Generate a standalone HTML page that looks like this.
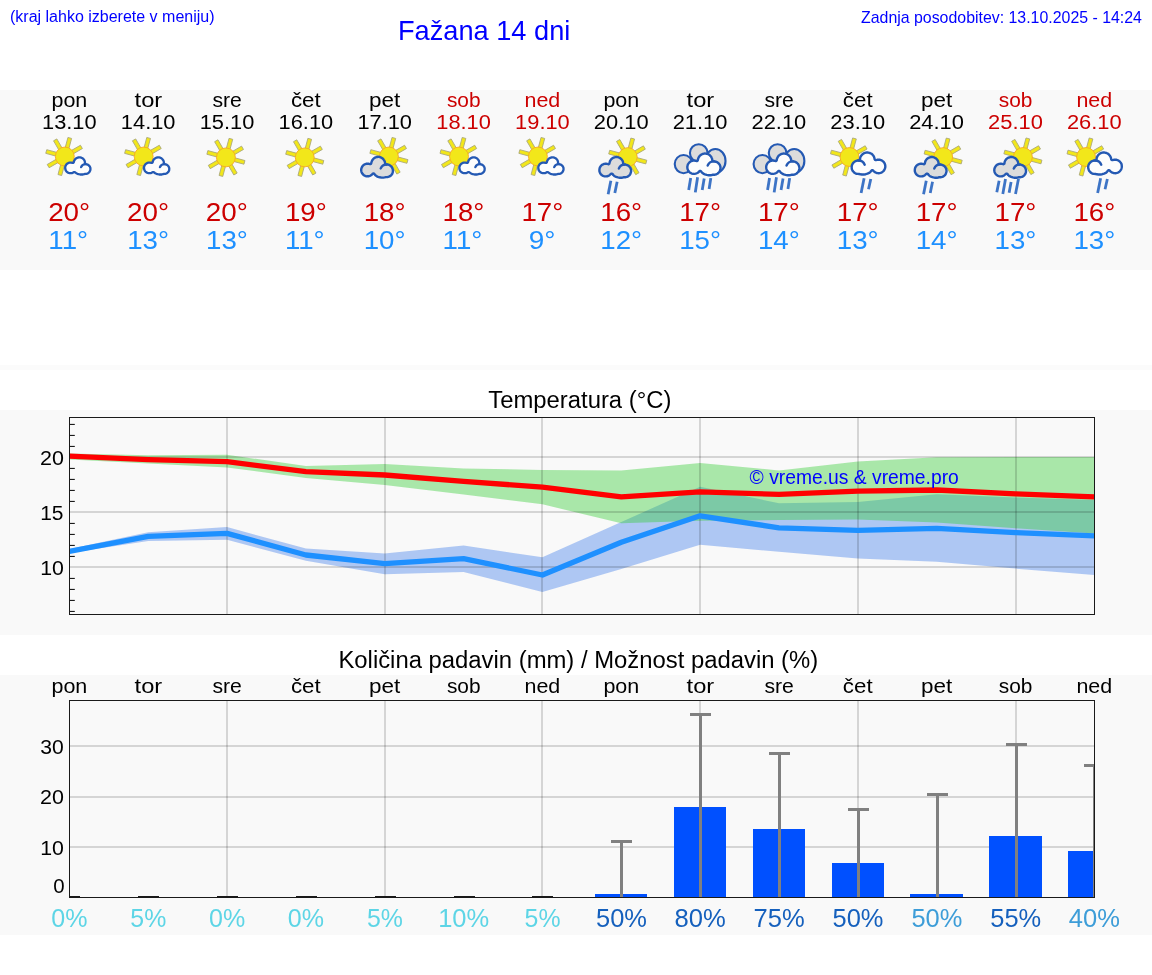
<!DOCTYPE html>
<html lang="sl"><head><meta charset="utf-8"><title>Fažana 14 dni</title>
<style>
html,body{margin:0;padding:0;background:#fff;}
body{width:1152px;height:975px;position:relative;overflow:hidden;font-family:"Liberation Sans",sans-serif;}
.h{position:absolute;color:#0000ff;white-space:nowrap;line-height:1;will-change:transform;}
#l{left:10px;top:9.4px;font-size:16px;}
#r{right:10px;top:9.5px;font-size:15.9px;}
#t{left:398.1px;top:17.3px;font-size:27.2px;}
svg{position:absolute;left:0;top:0;will-change:transform;}
svg text{font-family:"Liberation Sans",sans-serif;}
</style></head><body>
<svg width="1152" height="975" viewBox="0 0 1152 975">
<rect x="0" y="90" width="1152" height="180" fill="#f9f9f9"/>
<rect x="0" y="365" width="1152" height="5" fill="#fbfbfb"/>
<rect x="0" y="410" width="1152" height="225" fill="#f9f9f9"/>
<rect x="0" y="675" width="1152" height="260" fill="#f9f9f9"/>
<text transform="translate(51.44,106.50) scale(1.0232,1)" font-size="21.00" fill="#000">pon</text>
<text transform="translate(42.01,128.90) scale(1.0396,1)" font-size="21.00" fill="#000">13.10</text>
<rect x="8.5" y="-1.9" width="10.7" height="3.8" transform="translate(64.80,156.50) rotate(-30)" fill="#f2e71a" stroke="#a9a77a" stroke-width="0.8"/><rect x="8.5" y="-1.9" width="10.7" height="3.8" transform="translate(64.80,156.50) rotate(105)" fill="#f2e71a" stroke="#a9a77a" stroke-width="0.8"/><rect x="8.5" y="-1.9" width="10.7" height="3.8" transform="translate(64.80,156.50) rotate(150)" fill="#f2e71a" stroke="#a9a77a" stroke-width="0.8"/><rect x="8.5" y="-1.9" width="10.7" height="3.8" transform="translate(64.80,156.50) rotate(195)" fill="#f2e71a" stroke="#a9a77a" stroke-width="0.8"/><rect x="8.5" y="-1.9" width="10.7" height="3.8" transform="translate(64.80,156.50) rotate(240)" fill="#f2e71a" stroke="#a9a77a" stroke-width="0.8"/><rect x="8.5" y="-1.9" width="10.7" height="3.8" transform="translate(64.80,156.50) rotate(285)" fill="#f2e71a" stroke="#a9a77a" stroke-width="0.8"/><circle cx="64.80" cy="156.50" r="9.45" fill="#f2e71a" stroke="#f7a823" stroke-width="0.9"/><path d="M85.1 163.5L84.8 161.5L84.6 160.8L84.3 160.2L83.6 159.2L83.1 158.7L82.5 158.3L81.9 158.0L81.3 157.7L80.1 157.4L78.8 157.4L78.2 157.5L77.5 157.7L76.9 158.0L76.1 158.4L75.6 158.8L75.0 159.4L74.6 160.1L74.2 160.7L73.7 162.3L73.5 162.6L73.3 162.8L73.0 162.9L72.6 162.9L71.0 162.6L70.2 162.6L69.5 162.7L68.7 162.9L68.0 163.2L67.3 163.6L66.7 164.1L66.2 164.7L65.8 165.4L65.5 166.0L65.3 166.7L65.2 167.4L65.2 168.2L65.3 168.9L65.5 169.7L65.7 170.3L66.1 170.9L66.5 171.5L67.0 172.0L67.6 172.4L68.2 172.7L68.8 173.0L69.6 173.2L70.6 173.2L71.7 173.1L72.7 172.8L73.7 172.2L74.3 172.1L74.8 172.2L75.1 172.3L76.3 173.2L77.5 173.8L78.8 174.2L80.2 174.5L81.5 174.5L83.0 174.5L84.2 174.2L85.3 173.9L86.4 173.8L87.2 173.6L88.0 173.2L88.7 172.7L89.3 172.2L89.8 171.4L90.2 170.5L90.4 169.7L90.4 168.9L90.4 168.1L90.2 167.4L89.9 166.7L89.5 166.1L89.0 165.6L88.4 165.0L87.6 164.6L86.8 164.3L85.9 164.1L85.5 164.0L85.3 163.7Z" fill="#fdfdfd" stroke="#2459b3" stroke-width="2.3" stroke-linejoin="round"/><path d="M85.77 164.15 A4.85 4.85 0 0 0 81.10 167.18" fill="none" stroke="#2459b3" stroke-width="2.3" stroke-linecap="round"/>
<text transform="translate(48.15,221.00) scale(1.0897,1)" font-size="25.52" fill="#cc0000">20°</text>
<text transform="translate(48.33,249.20) scale(1.0849,1)" font-size="25.52" fill="#1e90ff">11°</text>
<text transform="translate(134.59,106.50) scale(1.1296,1)" font-size="21.00" fill="#000">tor</text>
<text transform="translate(120.86,128.90) scale(1.0396,1)" font-size="21.00" fill="#000">14.10</text>
<rect x="8.5" y="-1.9" width="10.7" height="3.8" transform="translate(143.65,156.50) rotate(-30)" fill="#f2e71a" stroke="#a9a77a" stroke-width="0.8"/><rect x="8.5" y="-1.9" width="10.7" height="3.8" transform="translate(143.65,156.50) rotate(105)" fill="#f2e71a" stroke="#a9a77a" stroke-width="0.8"/><rect x="8.5" y="-1.9" width="10.7" height="3.8" transform="translate(143.65,156.50) rotate(150)" fill="#f2e71a" stroke="#a9a77a" stroke-width="0.8"/><rect x="8.5" y="-1.9" width="10.7" height="3.8" transform="translate(143.65,156.50) rotate(195)" fill="#f2e71a" stroke="#a9a77a" stroke-width="0.8"/><rect x="8.5" y="-1.9" width="10.7" height="3.8" transform="translate(143.65,156.50) rotate(240)" fill="#f2e71a" stroke="#a9a77a" stroke-width="0.8"/><rect x="8.5" y="-1.9" width="10.7" height="3.8" transform="translate(143.65,156.50) rotate(285)" fill="#f2e71a" stroke="#a9a77a" stroke-width="0.8"/><circle cx="143.65" cy="156.50" r="9.45" fill="#f2e71a" stroke="#f7a823" stroke-width="0.9"/><path d="M164.0 163.5L163.7 161.5L163.5 160.8L163.2 160.2L162.4 159.2L161.9 158.7L161.4 158.3L160.8 158.0L160.2 157.7L158.9 157.4L157.7 157.4L157.0 157.5L156.3 157.7L155.7 158.0L155.0 158.4L154.5 158.8L153.9 159.4L153.4 160.1L153.1 160.7L152.6 162.3L152.4 162.6L152.1 162.8L151.8 162.9L151.5 162.9L149.9 162.6L149.1 162.6L148.3 162.7L147.5 162.9L146.8 163.2L146.2 163.6L145.6 164.1L145.1 164.7L144.6 165.4L144.4 166.0L144.1 166.7L144.0 167.4L144.0 168.2L144.1 168.9L144.3 169.7L144.6 170.3L144.9 170.9L145.4 171.5L145.9 172.0L146.5 172.4L147.1 172.7L147.7 173.0L148.4 173.2L149.5 173.2L150.5 173.1L151.5 172.8L152.6 172.2L153.1 172.1L153.6 172.2L153.9 172.3L155.2 173.2L156.4 173.8L157.7 174.2L159.1 174.5L160.4 174.5L161.8 174.5L163.0 174.2L164.2 173.9L165.3 173.8L166.1 173.6L166.8 173.2L167.5 172.7L168.1 172.2L168.7 171.4L169.1 170.5L169.2 169.7L169.3 168.9L169.2 168.1L169.0 167.4L168.7 166.7L168.3 166.1L167.9 165.6L167.2 165.0L166.4 164.6L165.6 164.3L164.7 164.1L164.4 164.0L164.2 163.7Z" fill="#fdfdfd" stroke="#2459b3" stroke-width="2.3" stroke-linejoin="round"/><path d="M164.62 164.15 A4.85 4.85 0 0 0 159.95 167.18" fill="none" stroke="#2459b3" stroke-width="2.3" stroke-linecap="round"/>
<text transform="translate(127.00,221.00) scale(1.0897,1)" font-size="25.52" fill="#cc0000">20°</text>
<text transform="translate(127.18,249.20) scale(1.0849,1)" font-size="25.52" fill="#1e90ff">13°</text>
<text transform="translate(212.45,106.50) scale(1.0101,1)" font-size="21.00" fill="#000">sre</text>
<text transform="translate(199.71,128.90) scale(1.0396,1)" font-size="21.00" fill="#000">15.10</text>
<rect x="8.5" y="-1.9" width="10.7" height="3.8" transform="translate(225.90,157.40) rotate(-30)" fill="#f2e71a" stroke="#a9a77a" stroke-width="0.8"/><rect x="8.5" y="-1.9" width="10.7" height="3.8" transform="translate(225.90,157.40) rotate(15)" fill="#f2e71a" stroke="#a9a77a" stroke-width="0.8"/><rect x="8.5" y="-1.9" width="10.7" height="3.8" transform="translate(225.90,157.40) rotate(60)" fill="#f2e71a" stroke="#a9a77a" stroke-width="0.8"/><rect x="8.5" y="-1.9" width="10.7" height="3.8" transform="translate(225.90,157.40) rotate(105)" fill="#f2e71a" stroke="#a9a77a" stroke-width="0.8"/><rect x="8.5" y="-1.9" width="10.7" height="3.8" transform="translate(225.90,157.40) rotate(150)" fill="#f2e71a" stroke="#a9a77a" stroke-width="0.8"/><rect x="8.5" y="-1.9" width="10.7" height="3.8" transform="translate(225.90,157.40) rotate(195)" fill="#f2e71a" stroke="#a9a77a" stroke-width="0.8"/><rect x="8.5" y="-1.9" width="10.7" height="3.8" transform="translate(225.90,157.40) rotate(240)" fill="#f2e71a" stroke="#a9a77a" stroke-width="0.8"/><rect x="8.5" y="-1.9" width="10.7" height="3.8" transform="translate(225.90,157.40) rotate(285)" fill="#f2e71a" stroke="#a9a77a" stroke-width="0.8"/><circle cx="225.90" cy="157.40" r="9.45" fill="#f2e71a" stroke="#f7a823" stroke-width="0.9"/>
<text transform="translate(205.85,221.00) scale(1.0897,1)" font-size="25.52" fill="#cc0000">20°</text>
<text transform="translate(206.03,249.20) scale(1.0849,1)" font-size="25.52" fill="#1e90ff">13°</text>
<text transform="translate(290.88,106.50) scale(1.0633,1)" font-size="21.00" fill="#000">čet</text>
<text transform="translate(278.56,128.90) scale(1.0396,1)" font-size="21.00" fill="#000">16.10</text>
<rect x="8.5" y="-1.9" width="10.7" height="3.8" transform="translate(304.75,157.40) rotate(-30)" fill="#f2e71a" stroke="#a9a77a" stroke-width="0.8"/><rect x="8.5" y="-1.9" width="10.7" height="3.8" transform="translate(304.75,157.40) rotate(15)" fill="#f2e71a" stroke="#a9a77a" stroke-width="0.8"/><rect x="8.5" y="-1.9" width="10.7" height="3.8" transform="translate(304.75,157.40) rotate(60)" fill="#f2e71a" stroke="#a9a77a" stroke-width="0.8"/><rect x="8.5" y="-1.9" width="10.7" height="3.8" transform="translate(304.75,157.40) rotate(105)" fill="#f2e71a" stroke="#a9a77a" stroke-width="0.8"/><rect x="8.5" y="-1.9" width="10.7" height="3.8" transform="translate(304.75,157.40) rotate(150)" fill="#f2e71a" stroke="#a9a77a" stroke-width="0.8"/><rect x="8.5" y="-1.9" width="10.7" height="3.8" transform="translate(304.75,157.40) rotate(195)" fill="#f2e71a" stroke="#a9a77a" stroke-width="0.8"/><rect x="8.5" y="-1.9" width="10.7" height="3.8" transform="translate(304.75,157.40) rotate(240)" fill="#f2e71a" stroke="#a9a77a" stroke-width="0.8"/><rect x="8.5" y="-1.9" width="10.7" height="3.8" transform="translate(304.75,157.40) rotate(285)" fill="#f2e71a" stroke="#a9a77a" stroke-width="0.8"/><circle cx="304.75" cy="157.40" r="9.45" fill="#f2e71a" stroke="#f7a823" stroke-width="0.9"/>
<text transform="translate(284.88,221.00) scale(1.0849,1)" font-size="25.52" fill="#cc0000">19°</text>
<text transform="translate(284.88,249.20) scale(1.0849,1)" font-size="25.52" fill="#1e90ff">11°</text>
<text transform="translate(369.11,106.50) scale(1.0703,1)" font-size="21.00" fill="#000">pet</text>
<text transform="translate(357.41,128.90) scale(1.0396,1)" font-size="21.00" fill="#000">17.10</text>
<rect x="8.5" y="-1.9" width="10.7" height="3.8" transform="translate(388.90,156.50) rotate(-30)" fill="#f2e71a" stroke="#a9a77a" stroke-width="0.8"/><rect x="8.5" y="-1.9" width="10.7" height="3.8" transform="translate(388.90,156.50) rotate(15)" fill="#f2e71a" stroke="#a9a77a" stroke-width="0.8"/><rect x="8.5" y="-1.9" width="10.7" height="3.8" transform="translate(388.90,156.50) rotate(60)" fill="#f2e71a" stroke="#a9a77a" stroke-width="0.8"/><rect x="8.5" y="-1.9" width="10.7" height="3.8" transform="translate(388.90,156.50) rotate(105)" fill="#f2e71a" stroke="#a9a77a" stroke-width="0.8"/><rect x="8.5" y="-1.9" width="10.7" height="3.8" transform="translate(388.90,156.50) rotate(150)" fill="#f2e71a" stroke="#a9a77a" stroke-width="0.8"/><rect x="8.5" y="-1.9" width="10.7" height="3.8" transform="translate(388.90,156.50) rotate(195)" fill="#f2e71a" stroke="#a9a77a" stroke-width="0.8"/><rect x="8.5" y="-1.9" width="10.7" height="3.8" transform="translate(388.90,156.50) rotate(240)" fill="#f2e71a" stroke="#a9a77a" stroke-width="0.8"/><rect x="8.5" y="-1.9" width="10.7" height="3.8" transform="translate(388.90,156.50) rotate(285)" fill="#f2e71a" stroke="#a9a77a" stroke-width="0.8"/><circle cx="388.90" cy="156.50" r="9.45" fill="#f2e71a" stroke="#f7a823" stroke-width="0.9"/><path d="M385.1 163.3L385.0 162.5L384.8 161.6L384.4 160.8L384.1 160.3L383.6 159.6L383.2 159.0L382.6 158.5L381.9 158.0L381.2 157.6L380.4 157.2L379.5 157.0L378.9 156.9L378.0 156.9L377.2 157.0L376.4 157.2L375.7 157.4L374.9 157.7L374.1 158.3L373.3 158.9L372.7 159.7L372.1 160.5L371.8 161.3L371.5 162.1L371.2 163.4L371.1 163.7L370.8 163.9L370.4 164.1L370.1 164.1L368.9 163.8L368.0 163.7L367.1 163.7L366.2 163.8L365.3 164.1L364.4 164.5L363.6 165.0L363.0 165.6L362.5 166.2L362.0 167.0L361.6 167.9L361.3 168.8L361.2 169.7L361.2 170.6L361.4 171.5L361.6 172.3L362.0 173.0L362.5 173.8L363.0 174.4L363.5 174.9L364.3 175.4L365.0 175.8L365.7 176.1L366.5 176.3L367.2 176.3L368.2 176.3L368.9 176.2L369.8 175.9L370.7 175.5L371.3 175.1L371.9 174.6L372.8 173.7L373.1 173.6L373.4 173.5L373.9 173.6L374.2 173.7L375.2 175.1L375.8 175.6L376.5 176.1L378.0 176.8L379.7 177.3L381.6 177.6L383.4 177.6L384.6 177.4L386.0 177.1L387.5 177.1L388.9 176.7L390.0 176.2L390.9 175.5L391.6 174.7L392.3 173.7L392.7 172.6L392.9 171.4L392.9 170.3L392.7 169.1L392.3 168.1L391.9 167.3L391.2 166.4L390.5 165.8L389.6 165.2L388.4 164.7L387.5 164.5L386.2 164.5L385.8 164.3L385.5 164.1L385.3 163.9Z" fill="#dcdcdc" stroke="#2459b3" stroke-width="2.4" stroke-linejoin="round"/><path d="M386.82 164.45 A6.35 6.35 0 0 0 380.71 168.42" fill="none" stroke="#2459b3" stroke-width="2.4" stroke-linecap="round"/>
<text transform="translate(363.73,221.00) scale(1.0849,1)" font-size="25.52" fill="#cc0000">18°</text>
<text transform="translate(363.73,249.20) scale(1.0849,1)" font-size="25.52" fill="#1e90ff">10°</text>
<text transform="translate(446.88,106.50) scale(0.9934,1)" font-size="21.00" fill="#cc0000">sob</text>
<text transform="translate(436.26,128.90) scale(1.0396,1)" font-size="21.00" fill="#cc0000">18.10</text>
<rect x="8.5" y="-1.9" width="10.7" height="3.8" transform="translate(459.05,156.50) rotate(-30)" fill="#f2e71a" stroke="#a9a77a" stroke-width="0.8"/><rect x="8.5" y="-1.9" width="10.7" height="3.8" transform="translate(459.05,156.50) rotate(105)" fill="#f2e71a" stroke="#a9a77a" stroke-width="0.8"/><rect x="8.5" y="-1.9" width="10.7" height="3.8" transform="translate(459.05,156.50) rotate(150)" fill="#f2e71a" stroke="#a9a77a" stroke-width="0.8"/><rect x="8.5" y="-1.9" width="10.7" height="3.8" transform="translate(459.05,156.50) rotate(195)" fill="#f2e71a" stroke="#a9a77a" stroke-width="0.8"/><rect x="8.5" y="-1.9" width="10.7" height="3.8" transform="translate(459.05,156.50) rotate(240)" fill="#f2e71a" stroke="#a9a77a" stroke-width="0.8"/><rect x="8.5" y="-1.9" width="10.7" height="3.8" transform="translate(459.05,156.50) rotate(285)" fill="#f2e71a" stroke="#a9a77a" stroke-width="0.8"/><circle cx="459.05" cy="156.50" r="9.45" fill="#f2e71a" stroke="#f7a823" stroke-width="0.9"/><path d="M479.4 163.5L479.1 161.5L478.9 160.8L478.6 160.2L477.8 159.2L477.3 158.7L476.8 158.3L476.2 158.0L475.6 157.7L474.3 157.4L473.1 157.4L472.4 157.5L471.7 157.7L471.1 158.0L470.4 158.4L469.9 158.8L469.3 159.4L468.8 160.1L468.5 160.7L468.0 162.3L467.8 162.6L467.5 162.8L467.2 162.9L466.9 162.9L465.3 162.6L464.5 162.6L463.7 162.7L462.9 162.9L462.2 163.2L461.6 163.6L461.0 164.1L460.5 164.7L460.0 165.4L459.8 166.0L459.5 166.7L459.4 167.4L459.4 168.2L459.5 168.9L459.7 169.7L460.0 170.3L460.3 170.9L460.8 171.5L461.3 172.0L461.9 172.4L462.5 172.7L463.1 173.0L463.8 173.2L464.9 173.2L465.9 173.1L466.9 172.8L468.0 172.2L468.5 172.1L469.0 172.2L469.4 172.3L470.6 173.2L471.8 173.8L473.1 174.2L474.5 174.5L475.8 174.5L477.2 174.5L478.4 174.2L479.6 173.9L480.7 173.8L481.5 173.6L482.2 173.2L482.9 172.7L483.5 172.2L484.1 171.4L484.5 170.5L484.6 169.7L484.7 168.9L484.6 168.1L484.4 167.4L484.1 166.7L483.7 166.1L483.3 165.6L482.6 165.0L481.8 164.6L481.0 164.3L480.1 164.1L479.8 164.0L479.6 163.7Z" fill="#fdfdfd" stroke="#2459b3" stroke-width="2.3" stroke-linejoin="round"/><path d="M480.02 164.15 A4.85 4.85 0 0 0 475.35 167.18" fill="none" stroke="#2459b3" stroke-width="2.3" stroke-linecap="round"/>
<text transform="translate(442.58,221.00) scale(1.0849,1)" font-size="25.52" fill="#cc0000">18°</text>
<text transform="translate(442.58,249.20) scale(1.0849,1)" font-size="25.52" fill="#1e90ff">11°</text>
<text transform="translate(524.46,106.50) scale(1.0227,1)" font-size="21.00" fill="#cc0000">ned</text>
<text transform="translate(515.11,128.90) scale(1.0396,1)" font-size="21.00" fill="#cc0000">19.10</text>
<rect x="8.5" y="-1.9" width="10.7" height="3.8" transform="translate(537.90,156.50) rotate(-30)" fill="#f2e71a" stroke="#a9a77a" stroke-width="0.8"/><rect x="8.5" y="-1.9" width="10.7" height="3.8" transform="translate(537.90,156.50) rotate(105)" fill="#f2e71a" stroke="#a9a77a" stroke-width="0.8"/><rect x="8.5" y="-1.9" width="10.7" height="3.8" transform="translate(537.90,156.50) rotate(150)" fill="#f2e71a" stroke="#a9a77a" stroke-width="0.8"/><rect x="8.5" y="-1.9" width="10.7" height="3.8" transform="translate(537.90,156.50) rotate(195)" fill="#f2e71a" stroke="#a9a77a" stroke-width="0.8"/><rect x="8.5" y="-1.9" width="10.7" height="3.8" transform="translate(537.90,156.50) rotate(240)" fill="#f2e71a" stroke="#a9a77a" stroke-width="0.8"/><rect x="8.5" y="-1.9" width="10.7" height="3.8" transform="translate(537.90,156.50) rotate(285)" fill="#f2e71a" stroke="#a9a77a" stroke-width="0.8"/><circle cx="537.90" cy="156.50" r="9.45" fill="#f2e71a" stroke="#f7a823" stroke-width="0.9"/><path d="M558.2 163.5L557.9 161.5L557.7 160.8L557.4 160.2L556.7 159.2L556.2 158.7L555.6 158.3L555.0 158.0L554.4 157.7L553.2 157.4L551.9 157.4L551.3 157.5L550.6 157.7L550.0 158.0L549.2 158.4L548.7 158.8L548.1 159.4L547.7 160.1L547.3 160.7L546.8 162.3L546.6 162.6L546.4 162.8L546.1 162.9L545.7 162.9L544.1 162.6L543.3 162.6L542.6 162.7L541.8 162.9L541.1 163.2L540.4 163.6L539.8 164.1L539.3 164.7L538.9 165.4L538.6 166.0L538.4 166.7L538.3 167.4L538.3 168.2L538.4 168.9L538.6 169.7L538.8 170.3L539.2 170.9L539.6 171.5L540.1 172.0L540.7 172.4L541.3 172.7L541.9 173.0L542.7 173.2L543.7 173.2L544.8 173.1L545.8 172.8L546.8 172.2L547.4 172.1L547.9 172.2L548.2 172.3L549.4 173.2L550.6 173.8L551.9 174.2L553.3 174.5L554.6 174.5L556.1 174.5L557.3 174.2L558.4 173.9L559.5 173.8L560.3 173.6L561.1 173.2L561.8 172.7L562.4 172.2L562.9 171.4L563.3 170.5L563.5 169.7L563.5 168.9L563.5 168.1L563.3 167.4L563.0 166.7L562.6 166.1L562.1 165.6L561.5 165.0L560.7 164.6L559.9 164.3L559.0 164.1L558.6 164.0L558.4 163.7Z" fill="#fdfdfd" stroke="#2459b3" stroke-width="2.3" stroke-linejoin="round"/><path d="M558.87 164.15 A4.85 4.85 0 0 0 554.20 167.18" fill="none" stroke="#2459b3" stroke-width="2.3" stroke-linecap="round"/>
<text transform="translate(521.43,221.00) scale(1.0849,1)" font-size="25.52" fill="#cc0000">17°</text>
<text transform="translate(528.81,249.20) scale(1.0970,1)" font-size="25.52" fill="#1e90ff">9°</text>
<text transform="translate(603.39,106.50) scale(1.0232,1)" font-size="21.00" fill="#000">pon</text>
<text transform="translate(593.80,128.90) scale(1.0425,1)" font-size="21.00" fill="#000">20.10</text>
<rect x="8.5" y="-1.9" width="10.7" height="3.8" transform="translate(627.75,157.10) rotate(-30)" fill="#f2e71a" stroke="#a9a77a" stroke-width="0.8"/><rect x="8.5" y="-1.9" width="10.7" height="3.8" transform="translate(627.75,157.10) rotate(15)" fill="#f2e71a" stroke="#a9a77a" stroke-width="0.8"/><rect x="8.5" y="-1.9" width="10.7" height="3.8" transform="translate(627.75,157.10) rotate(60)" fill="#f2e71a" stroke="#a9a77a" stroke-width="0.8"/><rect x="8.5" y="-1.9" width="10.7" height="3.8" transform="translate(627.75,157.10) rotate(105)" fill="#f2e71a" stroke="#a9a77a" stroke-width="0.8"/><rect x="8.5" y="-1.9" width="10.7" height="3.8" transform="translate(627.75,157.10) rotate(150)" fill="#f2e71a" stroke="#a9a77a" stroke-width="0.8"/><rect x="8.5" y="-1.9" width="10.7" height="3.8" transform="translate(627.75,157.10) rotate(195)" fill="#f2e71a" stroke="#a9a77a" stroke-width="0.8"/><rect x="8.5" y="-1.9" width="10.7" height="3.8" transform="translate(627.75,157.10) rotate(240)" fill="#f2e71a" stroke="#a9a77a" stroke-width="0.8"/><rect x="8.5" y="-1.9" width="10.7" height="3.8" transform="translate(627.75,157.10) rotate(285)" fill="#f2e71a" stroke="#a9a77a" stroke-width="0.8"/><circle cx="627.75" cy="157.10" r="9.45" fill="#f2e71a" stroke="#f7a823" stroke-width="0.9"/><path d="M623.2 163.4L623.1 162.6L622.9 161.7L622.6 160.9L622.3 160.4L621.8 159.7L621.3 159.1L620.7 158.6L620.0 158.1L619.3 157.7L618.5 157.3L617.7 157.1L617.0 157.0L616.2 157.0L615.3 157.1L614.5 157.3L613.9 157.5L613.1 157.8L612.2 158.4L611.5 159.0L610.8 159.8L610.3 160.6L609.9 161.4L609.7 162.2L609.4 163.5L609.2 163.8L608.9 164.0L608.6 164.2L608.2 164.2L607.1 163.9L606.2 163.8L605.2 163.8L604.3 163.9L603.4 164.2L602.6 164.6L601.8 165.1L601.1 165.7L600.6 166.3L600.1 167.1L599.7 168.0L599.5 168.9L599.4 169.8L599.4 170.7L599.5 171.6L599.8 172.4L600.1 173.1L600.6 173.9L601.1 174.5L601.7 175.0L602.4 175.5L603.1 175.9L603.9 176.2L604.6 176.4L605.4 176.4L606.3 176.4L607.1 176.3L608.0 176.0L608.8 175.6L609.5 175.2L610.1 174.7L610.9 173.8L611.2 173.7L611.6 173.6L612.0 173.7L612.4 173.8L613.4 175.2L614.0 175.7L614.7 176.2L616.1 176.9L617.9 177.4L619.8 177.7L621.5 177.7L622.8 177.5L624.1 177.2L625.7 177.2L627.0 176.8L628.1 176.3L629.0 175.6L629.8 174.8L630.4 173.8L630.8 172.7L631.1 171.5L631.1 170.4L630.9 169.2L630.5 168.2L630.0 167.4L629.3 166.5L628.7 165.9L627.7 165.3L626.6 164.8L625.7 164.6L624.4 164.6L623.9 164.4L623.6 164.2L623.4 164.0Z" fill="#dcdcdc" stroke="#2459b3" stroke-width="2.4" stroke-linejoin="round"/><path d="M624.97 164.55 A6.35 6.35 0 0 0 618.86 168.52" fill="none" stroke="#2459b3" stroke-width="2.4" stroke-linecap="round"/><line x1="610.85" y1="180.70" x2="608.15" y2="194.30" stroke="#3d74c6" stroke-width="2.8"/><line x1="617.15" y1="181.70" x2="614.85" y2="193.00" stroke="#3d74c6" stroke-width="2.8"/>
<text transform="translate(600.28,221.00) scale(1.0849,1)" font-size="25.52" fill="#cc0000">16°</text>
<text transform="translate(600.28,249.20) scale(1.0849,1)" font-size="25.52" fill="#1e90ff">12°</text>
<text transform="translate(686.55,106.50) scale(1.1296,1)" font-size="21.00" fill="#000">tor</text>
<text transform="translate(672.65,128.90) scale(1.0425,1)" font-size="21.00" fill="#000">21.10</text>
<ellipse cx="715.37" cy="160.92" rx="10.15" ry="11.87" fill="#dcdcdc" stroke="#2459b3" stroke-width="2.1"/><ellipse cx="698.75" cy="153.01" rx="8.83" ry="8.83" fill="#dcdcdc" stroke="#2459b3" stroke-width="2.1"/><ellipse cx="683.56" cy="164.07" rx="8.83" ry="9.12" fill="#dcdcdc" stroke="#2459b3" stroke-width="2.1"/><path d="M712.3 160.2L712.2 159.4L712.0 158.5L711.6 157.7L711.3 157.0L710.9 156.5L710.3 155.8L709.7 155.2L709.0 154.6L708.2 154.2L707.4 153.9L706.5 153.7L705.8 153.6L704.9 153.5L704.0 153.6L703.2 153.8L702.5 154.0L701.5 154.5L700.8 155.0L700.0 155.6L699.3 156.5L698.7 157.4L698.3 158.2L698.1 159.0L697.8 160.3L697.6 160.6L697.3 160.9L697.0 161.0L696.7 161.0L695.3 160.7L694.2 160.6L693.4 160.6L692.5 160.7L691.6 161.0L690.7 161.4L689.9 162.0L689.2 162.6L688.6 163.4L688.1 164.1L687.7 165.0L687.5 165.9L687.3 166.9L687.4 167.9L687.5 168.8L687.8 169.6L688.1 170.4L688.6 171.1L689.2 171.8L689.8 172.4L690.6 172.9L691.3 173.3L692.1 173.6L692.9 173.8L693.7 173.9L694.7 173.9L695.5 173.7L696.4 173.4L697.3 173.0L698.0 172.6L698.6 172.1L699.5 171.1L699.8 171.0L700.1 170.9L700.6 171.0L700.9 171.2L702.0 172.6L702.6 173.1L703.3 173.6L704.9 174.4L706.7 174.9L708.7 175.2L710.5 175.2L711.8 175.0L713.2 174.7L714.8 174.7L715.6 174.5L716.3 174.3L717.4 173.7L718.3 173.0L719.2 172.0L719.8 171.1L720.2 170.0L720.5 168.7L720.5 167.6L720.3 166.3L719.9 165.2L719.3 164.2L718.7 163.5L717.8 162.7L716.9 162.1L715.8 161.7L714.8 161.5L713.5 161.4L713.0 161.3L712.7 161.1L712.5 160.8Z" fill="#fdfdfd" stroke="#2459b3" stroke-width="2.4" stroke-linejoin="round"/><path d="M714.09 161.40 A6.67 6.67 0 0 0 707.67 165.56" fill="none" stroke="#2459b3" stroke-width="2.4" stroke-linecap="round"/><line x1="690.70" y1="178.10" x2="688.70" y2="189.90" stroke="#3d74c6" stroke-width="2.8"/><line x1="697.60" y1="177.30" x2="695.30" y2="192.40" stroke="#3d74c6" stroke-width="2.8"/><line x1="704.20" y1="178.40" x2="702.20" y2="189.90" stroke="#3d74c6" stroke-width="2.8"/><line x1="710.80" y1="178.10" x2="709.10" y2="189.00" stroke="#3d74c6" stroke-width="2.8"/>
<text transform="translate(679.13,221.00) scale(1.0849,1)" font-size="25.52" fill="#cc0000">17°</text>
<text transform="translate(679.13,249.20) scale(1.0849,1)" font-size="25.52" fill="#1e90ff">15°</text>
<text transform="translate(764.40,106.50) scale(1.0101,1)" font-size="21.00" fill="#000">sre</text>
<text transform="translate(751.50,128.90) scale(1.0425,1)" font-size="21.00" fill="#000">22.10</text>
<ellipse cx="794.22" cy="160.92" rx="10.15" ry="11.87" fill="#dcdcdc" stroke="#2459b3" stroke-width="2.1"/><ellipse cx="777.60" cy="153.01" rx="8.83" ry="8.83" fill="#dcdcdc" stroke="#2459b3" stroke-width="2.1"/><ellipse cx="762.41" cy="164.07" rx="8.83" ry="9.12" fill="#dcdcdc" stroke="#2459b3" stroke-width="2.1"/><path d="M791.2 160.2L791.1 159.4L790.8 158.5L790.5 157.7L790.2 157.0L789.8 156.5L789.2 155.8L788.5 155.2L787.8 154.6L787.0 154.2L786.2 153.9L785.4 153.7L784.7 153.6L783.8 153.5L782.9 153.6L782.0 153.8L781.3 154.0L780.4 154.5L779.6 155.0L778.8 155.6L778.1 156.5L777.6 157.4L777.2 158.2L776.9 159.0L776.7 160.3L776.5 160.6L776.2 160.9L775.9 161.0L775.5 161.0L774.2 160.7L773.0 160.6L772.2 160.6L771.4 160.7L770.5 161.0L769.6 161.4L768.8 162.0L768.0 162.6L767.4 163.4L767.0 164.1L766.6 165.0L766.3 165.9L766.2 166.9L766.2 167.9L766.4 168.8L766.6 169.6L767.0 170.4L767.4 171.1L768.0 171.8L768.6 172.4L769.4 172.9L770.2 173.3L770.9 173.6L771.7 173.8L772.5 173.9L773.5 173.9L774.3 173.7L775.3 173.4L776.1 173.0L776.8 172.6L777.5 172.1L778.3 171.1L778.6 171.0L779.0 170.9L779.4 171.0L779.8 171.2L780.8 172.6L781.4 173.1L782.2 173.6L783.7 174.4L785.5 174.9L787.5 175.2L789.3 175.2L790.7 175.0L792.1 174.7L793.7 174.7L794.5 174.5L795.1 174.3L796.3 173.7L797.2 173.0L798.1 172.0L798.7 171.1L799.1 170.0L799.3 168.7L799.4 167.6L799.1 166.3L798.7 165.2L798.2 164.2L797.5 163.5L796.7 162.7L795.7 162.1L794.6 161.7L793.7 161.5L792.3 161.4L791.9 161.3L791.6 161.1L791.3 160.8Z" fill="#fdfdfd" stroke="#2459b3" stroke-width="2.4" stroke-linejoin="round"/><path d="M792.94 161.40 A6.67 6.67 0 0 0 786.52 165.56" fill="none" stroke="#2459b3" stroke-width="2.4" stroke-linecap="round"/><line x1="769.55" y1="178.10" x2="767.55" y2="189.90" stroke="#3d74c6" stroke-width="2.8"/><line x1="776.45" y1="177.30" x2="774.15" y2="192.40" stroke="#3d74c6" stroke-width="2.8"/><line x1="783.05" y1="178.40" x2="781.05" y2="189.90" stroke="#3d74c6" stroke-width="2.8"/><line x1="789.65" y1="178.10" x2="787.95" y2="189.00" stroke="#3d74c6" stroke-width="2.8"/>
<text transform="translate(757.98,221.00) scale(1.0849,1)" font-size="25.52" fill="#cc0000">17°</text>
<text transform="translate(757.98,249.20) scale(1.0849,1)" font-size="25.52" fill="#1e90ff">14°</text>
<text transform="translate(842.83,106.50) scale(1.0633,1)" font-size="21.00" fill="#000">čet</text>
<text transform="translate(830.35,128.90) scale(1.0425,1)" font-size="21.00" fill="#000">23.10</text>
<rect x="8.5" y="-1.9" width="10.7" height="3.8" transform="translate(849.50,157.00) rotate(-30)" fill="#f2e71a" stroke="#a9a77a" stroke-width="0.8"/><rect x="8.5" y="-1.9" width="10.7" height="3.8" transform="translate(849.50,157.00) rotate(105)" fill="#f2e71a" stroke="#a9a77a" stroke-width="0.8"/><rect x="8.5" y="-1.9" width="10.7" height="3.8" transform="translate(849.50,157.00) rotate(150)" fill="#f2e71a" stroke="#a9a77a" stroke-width="0.8"/><rect x="8.5" y="-1.9" width="10.7" height="3.8" transform="translate(849.50,157.00) rotate(195)" fill="#f2e71a" stroke="#a9a77a" stroke-width="0.8"/><rect x="8.5" y="-1.9" width="10.7" height="3.8" transform="translate(849.50,157.00) rotate(240)" fill="#f2e71a" stroke="#a9a77a" stroke-width="0.8"/><rect x="8.5" y="-1.9" width="10.7" height="3.8" transform="translate(849.50,157.00) rotate(285)" fill="#f2e71a" stroke="#a9a77a" stroke-width="0.8"/><circle cx="849.50" cy="157.00" r="9.45" fill="#f2e71a" stroke="#f7a823" stroke-width="0.9"/><path d="M860.0 159.3L860.1 158.4L860.3 157.5L860.6 156.7L861.0 156.1L861.4 155.5L862.0 154.8L862.6 154.2L863.4 153.6L864.1 153.2L865.0 152.9L865.9 152.6L866.6 152.5L867.5 152.5L868.4 152.6L869.2 152.8L869.9 153.0L870.9 153.5L871.7 153.9L872.5 154.7L873.2 155.5L873.8 156.4L874.1 157.2L874.4 158.1L874.7 159.4L874.9 159.7L875.2 159.9L875.5 160.1L875.9 160.1L877.2 159.8L878.4 159.6L879.2 159.7L880.0 159.8L881.0 160.1L881.9 160.5L882.7 161.1L883.4 161.7L884.0 162.4L884.5 163.2L884.9 164.1L885.2 165.1L885.3 166.1L885.3 167.1L885.1 168.0L884.8 168.8L884.5 169.6L884.0 170.4L883.4 171.1L882.8 171.6L882.0 172.2L881.3 172.6L880.5 172.9L879.7 173.1L878.7 173.2L877.9 173.1L877.0 173.0L876.1 172.7L875.2 172.3L874.5 171.8L873.9 171.3L873.0 170.4L872.7 170.2L872.3 170.2L871.9 170.2L871.6 170.4L870.5 171.8L869.8 172.4L869.1 172.9L867.5 173.6L865.7 174.2L863.7 174.5L861.8 174.5L860.5 174.3L859.1 174.0L857.4 173.9L856.6 173.8L856.0 173.6L854.8 173.0L853.9 172.3L853.0 171.3L852.4 170.3L851.9 169.2L851.7 167.9L851.7 166.7L851.9 165.4L852.3 164.3L852.9 163.3L853.5 162.6L854.4 161.8L855.4 161.2L856.5 160.8L857.4 160.5L858.8 160.5L859.3 160.4L859.6 160.2L859.8 159.9Z" fill="#fdfdfd" stroke="#2459b3" stroke-width="2.4" stroke-linejoin="round"/><path d="M858.18 160.47 A6.77 6.77 0 0 1 864.70 164.71" fill="none" stroke="#2459b3" stroke-width="2.4" stroke-linecap="round"/><line x1="864.10" y1="178.30" x2="861.10" y2="193.00" stroke="#3d74c6" stroke-width="2.8"/><line x1="870.80" y1="179.00" x2="868.50" y2="189.30" stroke="#3d74c6" stroke-width="2.8"/>
<text transform="translate(836.83,221.00) scale(1.0849,1)" font-size="25.52" fill="#cc0000">17°</text>
<text transform="translate(836.83,249.20) scale(1.0849,1)" font-size="25.52" fill="#1e90ff">13°</text>
<text transform="translate(921.06,106.50) scale(1.0703,1)" font-size="21.00" fill="#000">pet</text>
<text transform="translate(909.20,128.90) scale(1.0425,1)" font-size="21.00" fill="#000">24.10</text>
<rect x="8.5" y="-1.9" width="10.7" height="3.8" transform="translate(943.15,157.10) rotate(-30)" fill="#f2e71a" stroke="#a9a77a" stroke-width="0.8"/><rect x="8.5" y="-1.9" width="10.7" height="3.8" transform="translate(943.15,157.10) rotate(15)" fill="#f2e71a" stroke="#a9a77a" stroke-width="0.8"/><rect x="8.5" y="-1.9" width="10.7" height="3.8" transform="translate(943.15,157.10) rotate(60)" fill="#f2e71a" stroke="#a9a77a" stroke-width="0.8"/><rect x="8.5" y="-1.9" width="10.7" height="3.8" transform="translate(943.15,157.10) rotate(105)" fill="#f2e71a" stroke="#a9a77a" stroke-width="0.8"/><rect x="8.5" y="-1.9" width="10.7" height="3.8" transform="translate(943.15,157.10) rotate(150)" fill="#f2e71a" stroke="#a9a77a" stroke-width="0.8"/><rect x="8.5" y="-1.9" width="10.7" height="3.8" transform="translate(943.15,157.10) rotate(195)" fill="#f2e71a" stroke="#a9a77a" stroke-width="0.8"/><rect x="8.5" y="-1.9" width="10.7" height="3.8" transform="translate(943.15,157.10) rotate(240)" fill="#f2e71a" stroke="#a9a77a" stroke-width="0.8"/><rect x="8.5" y="-1.9" width="10.7" height="3.8" transform="translate(943.15,157.10) rotate(285)" fill="#f2e71a" stroke="#a9a77a" stroke-width="0.8"/><circle cx="943.15" cy="157.10" r="9.45" fill="#f2e71a" stroke="#f7a823" stroke-width="0.9"/><path d="M938.6 163.4L938.5 162.6L938.3 161.7L938.0 160.9L937.7 160.4L937.2 159.7L936.7 159.1L936.1 158.6L935.4 158.1L934.7 157.7L933.9 157.3L933.1 157.1L932.4 157.0L931.6 157.0L930.7 157.1L929.9 157.3L929.3 157.5L928.5 157.8L927.6 158.4L926.9 159.0L926.2 159.8L925.7 160.6L925.3 161.4L925.1 162.2L924.8 163.5L924.6 163.8L924.3 164.0L924.0 164.2L923.6 164.2L922.5 163.9L921.6 163.8L920.6 163.8L919.7 163.9L918.8 164.2L918.0 164.6L917.2 165.1L916.5 165.7L916.0 166.3L915.5 167.1L915.1 168.0L914.9 168.9L914.8 169.8L914.8 170.7L914.9 171.6L915.2 172.4L915.5 173.1L916.0 173.9L916.5 174.5L917.1 175.0L917.8 175.5L918.5 175.9L919.3 176.2L920.0 176.4L920.8 176.4L921.7 176.4L922.5 176.3L923.4 176.0L924.2 175.6L924.9 175.2L925.5 174.7L926.3 173.8L926.6 173.7L927.0 173.6L927.4 173.7L927.8 173.8L928.8 175.2L929.4 175.7L930.1 176.2L931.5 176.9L933.3 177.4L935.2 177.7L936.9 177.7L938.2 177.5L939.5 177.2L941.1 177.2L942.4 176.8L943.5 176.3L944.4 175.6L945.2 174.8L945.8 173.8L946.2 172.7L946.5 171.5L946.5 170.4L946.3 169.2L945.9 168.2L945.4 167.4L944.8 166.5L944.1 165.9L943.1 165.3L942.0 164.8L941.1 164.6L939.8 164.6L939.3 164.4L939.0 164.2L938.8 164.0Z" fill="#dcdcdc" stroke="#2459b3" stroke-width="2.4" stroke-linejoin="round"/><path d="M940.37 164.55 A6.35 6.35 0 0 0 934.26 168.52" fill="none" stroke="#2459b3" stroke-width="2.4" stroke-linecap="round"/><line x1="926.25" y1="180.70" x2="923.55" y2="194.30" stroke="#3d74c6" stroke-width="2.8"/><line x1="932.55" y1="181.70" x2="930.25" y2="193.00" stroke="#3d74c6" stroke-width="2.8"/>
<text transform="translate(915.68,221.00) scale(1.0849,1)" font-size="25.52" fill="#cc0000">17°</text>
<text transform="translate(915.68,249.20) scale(1.0849,1)" font-size="25.52" fill="#1e90ff">14°</text>
<text transform="translate(998.83,106.50) scale(0.9934,1)" font-size="21.00" fill="#cc0000">sob</text>
<text transform="translate(988.05,128.90) scale(1.0425,1)" font-size="21.00" fill="#cc0000">25.10</text>
<rect x="8.5" y="-1.9" width="10.7" height="3.8" transform="translate(1022.90,157.00) rotate(-30)" fill="#f2e71a" stroke="#a9a77a" stroke-width="0.8"/><rect x="8.5" y="-1.9" width="10.7" height="3.8" transform="translate(1022.90,157.00) rotate(15)" fill="#f2e71a" stroke="#a9a77a" stroke-width="0.8"/><rect x="8.5" y="-1.9" width="10.7" height="3.8" transform="translate(1022.90,157.00) rotate(60)" fill="#f2e71a" stroke="#a9a77a" stroke-width="0.8"/><rect x="8.5" y="-1.9" width="10.7" height="3.8" transform="translate(1022.90,157.00) rotate(105)" fill="#f2e71a" stroke="#a9a77a" stroke-width="0.8"/><rect x="8.5" y="-1.9" width="10.7" height="3.8" transform="translate(1022.90,157.00) rotate(150)" fill="#f2e71a" stroke="#a9a77a" stroke-width="0.8"/><rect x="8.5" y="-1.9" width="10.7" height="3.8" transform="translate(1022.90,157.00) rotate(195)" fill="#f2e71a" stroke="#a9a77a" stroke-width="0.8"/><rect x="8.5" y="-1.9" width="10.7" height="3.8" transform="translate(1022.90,157.00) rotate(240)" fill="#f2e71a" stroke="#a9a77a" stroke-width="0.8"/><rect x="8.5" y="-1.9" width="10.7" height="3.8" transform="translate(1022.90,157.00) rotate(285)" fill="#f2e71a" stroke="#a9a77a" stroke-width="0.8"/><circle cx="1022.90" cy="157.00" r="9.45" fill="#f2e71a" stroke="#f7a823" stroke-width="0.9"/><path d="M1018.2 163.4L1018.1 162.6L1017.9 161.7L1017.5 160.9L1017.2 160.4L1016.7 159.7L1016.3 159.1L1015.7 158.6L1015.0 158.1L1014.3 157.7L1013.5 157.3L1012.6 157.1L1012.0 157.0L1011.1 157.0L1010.3 157.1L1009.5 157.3L1008.8 157.5L1008.0 157.8L1007.2 158.4L1006.4 159.0L1005.8 159.8L1005.2 160.6L1004.9 161.4L1004.6 162.2L1004.4 163.5L1004.2 163.8L1003.9 164.0L1003.5 164.2L1003.2 164.2L1002.0 163.9L1001.1 163.8L1000.2 163.8L999.3 163.9L998.4 164.2L997.5 164.6L996.7 165.1L996.1 165.7L995.6 166.3L995.1 167.1L994.7 168.0L994.4 168.9L994.3 169.8L994.3 170.7L994.5 171.6L994.7 172.4L995.1 173.1L995.6 173.9L996.1 174.5L996.6 175.0L997.4 175.5L998.1 175.9L998.8 176.2L999.6 176.4L1000.3 176.4L1001.3 176.4L1002.0 176.3L1002.9 176.0L1003.8 175.6L1004.4 175.2L1005.0 174.7L1005.9 173.8L1006.2 173.7L1006.5 173.6L1007.0 173.7L1007.3 173.8L1008.3 175.2L1008.9 175.7L1009.6 176.2L1011.1 176.9L1012.8 177.4L1014.7 177.7L1016.5 177.7L1017.7 177.5L1019.1 177.2L1020.6 177.2L1022.0 176.8L1023.1 176.3L1024.0 175.6L1024.7 174.8L1025.4 173.8L1025.8 172.7L1026.0 171.5L1026.0 170.4L1025.8 169.2L1025.4 168.2L1025.0 167.4L1024.3 166.5L1023.6 165.9L1022.7 165.3L1021.5 164.8L1020.6 164.6L1019.3 164.6L1018.9 164.4L1018.6 164.2L1018.4 164.0Z" fill="#dcdcdc" stroke="#2459b3" stroke-width="2.4" stroke-linejoin="round"/><path d="M1019.92 164.55 A6.35 6.35 0 0 0 1013.81 168.52" fill="none" stroke="#2459b3" stroke-width="2.4" stroke-linecap="round"/><line x1="999.10" y1="180.70" x2="996.80" y2="192.30" stroke="#3d74c6" stroke-width="2.8"/><line x1="1005.50" y1="179.00" x2="1002.80" y2="194.00" stroke="#3d74c6" stroke-width="2.8"/><line x1="1011.10" y1="182.00" x2="1009.10" y2="192.70" stroke="#3d74c6" stroke-width="2.8"/><line x1="1018.50" y1="178.70" x2="1015.50" y2="194.00" stroke="#3d74c6" stroke-width="2.8"/>
<text transform="translate(994.53,221.00) scale(1.0849,1)" font-size="25.52" fill="#cc0000">17°</text>
<text transform="translate(994.53,249.20) scale(1.0849,1)" font-size="25.52" fill="#1e90ff">13°</text>
<text transform="translate(1076.42,106.50) scale(1.0227,1)" font-size="21.00" fill="#cc0000">ned</text>
<text transform="translate(1066.90,128.90) scale(1.0425,1)" font-size="21.00" fill="#cc0000">26.10</text>
<rect x="8.5" y="-1.9" width="10.7" height="3.8" transform="translate(1086.05,157.00) rotate(-30)" fill="#f2e71a" stroke="#a9a77a" stroke-width="0.8"/><rect x="8.5" y="-1.9" width="10.7" height="3.8" transform="translate(1086.05,157.00) rotate(105)" fill="#f2e71a" stroke="#a9a77a" stroke-width="0.8"/><rect x="8.5" y="-1.9" width="10.7" height="3.8" transform="translate(1086.05,157.00) rotate(150)" fill="#f2e71a" stroke="#a9a77a" stroke-width="0.8"/><rect x="8.5" y="-1.9" width="10.7" height="3.8" transform="translate(1086.05,157.00) rotate(195)" fill="#f2e71a" stroke="#a9a77a" stroke-width="0.8"/><rect x="8.5" y="-1.9" width="10.7" height="3.8" transform="translate(1086.05,157.00) rotate(240)" fill="#f2e71a" stroke="#a9a77a" stroke-width="0.8"/><rect x="8.5" y="-1.9" width="10.7" height="3.8" transform="translate(1086.05,157.00) rotate(285)" fill="#f2e71a" stroke="#a9a77a" stroke-width="0.8"/><circle cx="1086.05" cy="157.00" r="9.45" fill="#f2e71a" stroke="#f7a823" stroke-width="0.9"/><path d="M1096.5 159.3L1096.6 158.4L1096.9 157.5L1097.2 156.7L1097.5 156.1L1097.9 155.5L1098.5 154.8L1099.2 154.2L1099.9 153.6L1100.7 153.2L1101.5 152.9L1102.4 152.6L1103.1 152.5L1104.0 152.5L1104.9 152.6L1105.8 152.8L1106.5 153.0L1107.5 153.5L1108.2 153.9L1109.0 154.7L1109.7 155.5L1110.3 156.4L1110.7 157.2L1111.0 158.1L1111.2 159.4L1111.4 159.7L1111.7 159.9L1112.0 160.1L1112.4 160.1L1113.8 159.8L1114.9 159.6L1115.7 159.7L1116.6 159.8L1117.5 160.1L1118.4 160.5L1119.2 161.1L1120.0 161.7L1120.5 162.4L1121.1 163.2L1121.5 164.1L1121.7 165.1L1121.8 166.1L1121.8 167.1L1121.6 168.0L1121.4 168.8L1121.1 169.6L1120.5 170.4L1120.0 171.1L1119.4 171.6L1118.6 172.2L1117.8 172.6L1117.0 172.9L1116.2 173.1L1115.2 173.2L1114.4 173.1L1113.6 173.0L1112.6 172.7L1111.7 172.3L1111.0 171.8L1110.4 171.3L1109.5 170.4L1109.2 170.2L1108.9 170.2L1108.4 170.2L1108.1 170.4L1107.0 171.8L1106.4 172.4L1105.7 172.9L1104.1 173.6L1102.2 174.2L1100.2 174.5L1098.4 174.5L1097.0 174.3L1095.6 174.0L1094.0 173.9L1093.2 173.8L1092.5 173.6L1091.3 173.0L1090.4 172.3L1089.5 171.3L1088.9 170.3L1088.5 169.2L1088.2 167.9L1088.2 166.7L1088.4 165.4L1088.8 164.3L1089.4 163.3L1090.1 162.6L1090.9 161.8L1091.9 161.2L1093.0 160.8L1094.0 160.5L1095.4 160.5L1095.8 160.4L1096.1 160.2L1096.3 159.9Z" fill="#fdfdfd" stroke="#2459b3" stroke-width="2.4" stroke-linejoin="round"/><path d="M1094.73 160.47 A6.77 6.77 0 0 1 1101.25 164.71" fill="none" stroke="#2459b3" stroke-width="2.4" stroke-linecap="round"/><line x1="1100.65" y1="178.30" x2="1097.65" y2="193.00" stroke="#3d74c6" stroke-width="2.8"/><line x1="1107.35" y1="179.00" x2="1105.05" y2="189.30" stroke="#3d74c6" stroke-width="2.8"/>
<text transform="translate(1073.38,221.00) scale(1.0849,1)" font-size="25.52" fill="#cc0000">16°</text>
<text transform="translate(1073.38,249.20) scale(1.0849,1)" font-size="25.52" fill="#1e90ff">13°</text>
<text x="579.80" y="407.50" font-size="23.85" fill="#000" text-anchor="middle">Temperatura (°C)</text>
<clipPath id="c1"><rect x="69.5" y="417.5" width="1025.0" height="197.0"/></clipPath>
<g clip-path="url(#c1)">
<polygon points="69.3,549.0 148.2,532.2 227.0,527.1 305.9,548.5 384.7,553.5 463.6,545.5 542.4,557.3 621.3,522.0 700.1,486.8 779.0,503.2 857.8,501.9 936.7,494.3 1015.5,497.6 1094.4,500.1 1094.4,574.9 1015.5,568.6 936.7,561.8 857.8,558.5 779.0,551.8 700.1,544.7 621.3,569.0 542.4,592.0 463.6,572.0 384.7,574.2 305.9,560.8 227.0,539.7 148.2,541.0 69.3,553.0" fill="rgb(100,149,237)" fill-opacity="0.5"/>
<polygon points="69.3,453.5 148.2,455.3 227.0,454.8 305.9,465.9 384.7,464.1 463.6,468.4 542.4,470.0 621.3,470.4 700.1,462.9 779.0,470.4 857.8,461.6 936.7,457.3 1015.5,457.0 1094.4,457.0 1094.4,533.4 1015.5,528.3 936.7,522.5 857.8,519.5 779.0,520.0 700.1,520.8 621.3,523.3 542.4,504.3 463.6,494.4 384.7,485.0 305.9,478.0 227.0,467.4 148.2,463.6 69.3,459.4" fill="rgb(50,205,50)" fill-opacity="0.4"/>
<line x1="69.5" x2="1094.5" y1="567" y2="567" stroke="#000" stroke-opacity="0.145" stroke-width="2" shape-rendering="crispEdges"/>
<line x1="69.5" x2="1094.5" y1="512" y2="512" stroke="#000" stroke-opacity="0.145" stroke-width="2" shape-rendering="crispEdges"/>
<line x1="69.5" x2="1094.5" y1="457" y2="457" stroke="#000" stroke-opacity="0.145" stroke-width="2" shape-rendering="crispEdges"/>
<line x1="227" x2="227" y1="417.5" y2="614.5" stroke="#000" stroke-opacity="0.145" stroke-width="2" shape-rendering="crispEdges"/>
<line x1="385" x2="385" y1="417.5" y2="614.5" stroke="#000" stroke-opacity="0.145" stroke-width="2" shape-rendering="crispEdges"/>
<line x1="542" x2="542" y1="417.5" y2="614.5" stroke="#000" stroke-opacity="0.145" stroke-width="2" shape-rendering="crispEdges"/>
<line x1="700" x2="700" y1="417.5" y2="614.5" stroke="#000" stroke-opacity="0.145" stroke-width="2" shape-rendering="crispEdges"/>
<line x1="858" x2="858" y1="417.5" y2="614.5" stroke="#000" stroke-opacity="0.145" stroke-width="2" shape-rendering="crispEdges"/>
<line x1="1016" x2="1016" y1="417.5" y2="614.5" stroke="#000" stroke-opacity="0.145" stroke-width="2" shape-rendering="crispEdges"/>
<polyline points="69.3,551.3 148.2,536.4 227.0,533.4 305.9,555.0 384.7,563.6 463.6,558.6 542.4,575.0 621.3,542.2 700.1,515.8 779.0,527.8 857.8,530.3 936.7,528.3 1015.5,532.6 1094.4,535.9" fill="none" stroke="#1e90ff" stroke-width="5.3" stroke-linejoin="round"/>
<polyline points="69.3,456.1 148.2,459.6 227.0,461.6 305.9,471.7 384.7,475.0 463.6,481.3 542.4,487.2 621.3,496.9 700.1,491.8 779.0,494.4 857.8,491.1 936.7,490.0 1015.5,493.8 1094.4,496.9" fill="none" stroke="#ff0000" stroke-width="5.3" stroke-linejoin="round"/>
</g>
<line x1="69.5" x2="74.8" y1="611.40" y2="611.40" stroke="#000" stroke-width="1"/>
<line x1="69.5" x2="74.8" y1="600.40" y2="600.40" stroke="#000" stroke-width="1"/>
<line x1="69.5" x2="74.8" y1="589.40" y2="589.40" stroke="#000" stroke-width="1"/>
<line x1="69.5" x2="74.8" y1="578.40" y2="578.40" stroke="#000" stroke-width="1"/>
<line x1="69.5" x2="74.8" y1="556.40" y2="556.40" stroke="#000" stroke-width="1"/>
<line x1="69.5" x2="74.8" y1="545.40" y2="545.40" stroke="#000" stroke-width="1"/>
<line x1="69.5" x2="74.8" y1="534.40" y2="534.40" stroke="#000" stroke-width="1"/>
<line x1="69.5" x2="74.8" y1="523.40" y2="523.40" stroke="#000" stroke-width="1"/>
<line x1="69.5" x2="74.8" y1="501.40" y2="501.40" stroke="#000" stroke-width="1"/>
<line x1="69.5" x2="74.8" y1="490.40" y2="490.40" stroke="#000" stroke-width="1"/>
<line x1="69.5" x2="74.8" y1="479.40" y2="479.40" stroke="#000" stroke-width="1"/>
<line x1="69.5" x2="74.8" y1="468.40" y2="468.40" stroke="#000" stroke-width="1"/>
<line x1="69.5" x2="74.8" y1="446.40" y2="446.40" stroke="#000" stroke-width="1"/>
<line x1="69.5" x2="74.8" y1="435.40" y2="435.40" stroke="#000" stroke-width="1"/>
<line x1="69.5" x2="74.8" y1="424.40" y2="424.40" stroke="#000" stroke-width="1"/>
<rect x="69.5" y="417.5" width="1025.0" height="197.0" fill="none" stroke="#1a1a1a" stroke-width="1"/>
<text transform="translate(40.15,574.80) scale(1.0156,1)" font-size="21.00" fill="#000">10</text>
<text transform="translate(40.17,519.80) scale(0.9991,1)" font-size="21.00" fill="#000">15</text>
<text transform="translate(39.97,464.80) scale(1.0230,1)" font-size="21.00" fill="#000">20</text>
<text x="749.60" y="483.90" font-size="19.30" fill="#0000ff" text-anchor="start">© vreme.us &amp; vreme.pro</text>
<text x="578.30" y="668.20" font-size="23.85" fill="#000" text-anchor="middle">Količina padavin (mm) / Možnost padavin (%)</text>
<text transform="translate(51.44,692.60) scale(1.0232,1)" font-size="21.00" fill="#000">pon</text>
<text transform="translate(51.27,927.00) scale(0.9826,1)" font-size="25.52" fill="#5dd5e6">0%</text>
<text transform="translate(134.59,692.60) scale(1.1296,1)" font-size="21.00" fill="#000">tor</text>
<text transform="translate(130.37,927.00) scale(0.9757,1)" font-size="25.52" fill="#5dd5e6">5%</text>
<text transform="translate(212.45,692.60) scale(1.0101,1)" font-size="21.00" fill="#000">sre</text>
<text transform="translate(208.97,927.00) scale(0.9826,1)" font-size="25.52" fill="#5dd5e6">0%</text>
<text transform="translate(290.88,692.60) scale(1.0633,1)" font-size="21.00" fill="#000">čet</text>
<text transform="translate(287.82,927.00) scale(0.9826,1)" font-size="25.52" fill="#5dd5e6">0%</text>
<text transform="translate(369.11,692.60) scale(1.0703,1)" font-size="21.00" fill="#000">pet</text>
<text transform="translate(366.92,927.00) scale(0.9757,1)" font-size="25.52" fill="#5dd5e6">5%</text>
<text transform="translate(446.88,692.60) scale(0.9934,1)" font-size="21.00" fill="#000">sob</text>
<text transform="translate(438.15,927.00) scale(1.0007,1)" font-size="25.52" fill="#5dd5e6">10%</text>
<text transform="translate(524.46,692.60) scale(1.0227,1)" font-size="21.00" fill="#000">ned</text>
<text transform="translate(524.62,927.00) scale(0.9757,1)" font-size="25.52" fill="#5dd5e6">5%</text>
<text transform="translate(603.39,692.60) scale(1.0232,1)" font-size="21.00" fill="#000">pon</text>
<text transform="translate(595.99,927.00) scale(0.9976,1)" font-size="25.52" fill="#1560bd">50%</text>
<text transform="translate(686.55,692.60) scale(1.1296,1)" font-size="21.00" fill="#000">tor</text>
<text transform="translate(674.53,927.00) scale(1.0038,1)" font-size="25.52" fill="#1560bd">80%</text>
<text transform="translate(764.40,692.60) scale(1.0101,1)" font-size="21.00" fill="#000">sre</text>
<text transform="translate(753.52,927.00) scale(1.0011,1)" font-size="25.52" fill="#1560bd">75%</text>
<text transform="translate(842.83,692.60) scale(1.0633,1)" font-size="21.00" fill="#000">čet</text>
<text transform="translate(832.54,927.00) scale(0.9976,1)" font-size="25.52" fill="#1560bd">50%</text>
<text transform="translate(921.06,692.60) scale(1.0703,1)" font-size="21.00" fill="#000">pet</text>
<text transform="translate(911.39,927.00) scale(0.9976,1)" font-size="25.52" fill="#3d9dd8">50%</text>
<text transform="translate(998.83,692.60) scale(0.9934,1)" font-size="21.00" fill="#000">sob</text>
<text transform="translate(990.24,927.00) scale(0.9976,1)" font-size="25.52" fill="#1560bd">55%</text>
<text transform="translate(1076.42,692.60) scale(1.0227,1)" font-size="21.00" fill="#000">ned</text>
<text transform="translate(1068.85,927.00) scale(1.0022,1)" font-size="25.52" fill="#3d9dd8">40%</text>
<clipPath id="c2"><rect x="69.5" y="700.5" width="1025.0" height="197.0"/></clipPath>
<g clip-path="url(#c2)">
<line x1="69.5" x2="1094.5" y1="847" y2="847" stroke="#000" stroke-opacity="0.145" stroke-width="2" shape-rendering="crispEdges"/>
<line x1="69.5" x2="1094.5" y1="797" y2="797" stroke="#000" stroke-opacity="0.145" stroke-width="2" shape-rendering="crispEdges"/>
<line x1="69.5" x2="1094.5" y1="746" y2="746" stroke="#000" stroke-opacity="0.145" stroke-width="2" shape-rendering="crispEdges"/>
<line x1="227" x2="227" y1="700.5" y2="897.5" stroke="#000" stroke-opacity="0.145" stroke-width="2" shape-rendering="crispEdges"/>
<line x1="385" x2="385" y1="700.5" y2="897.5" stroke="#000" stroke-opacity="0.145" stroke-width="2" shape-rendering="crispEdges"/>
<line x1="542" x2="542" y1="700.5" y2="897.5" stroke="#000" stroke-opacity="0.145" stroke-width="2" shape-rendering="crispEdges"/>
<line x1="700" x2="700" y1="700.5" y2="897.5" stroke="#000" stroke-opacity="0.145" stroke-width="2" shape-rendering="crispEdges"/>
<line x1="858" x2="858" y1="700.5" y2="897.5" stroke="#000" stroke-opacity="0.145" stroke-width="2" shape-rendering="crispEdges"/>
<line x1="1016" x2="1016" y1="700.5" y2="897.5" stroke="#000" stroke-opacity="0.145" stroke-width="2" shape-rendering="crispEdges"/>
<rect x="595" y="894" width="52" height="3.50" fill="#0050ff"/>
<rect x="674" y="807" width="52" height="90.50" fill="#0050ff"/>
<rect x="753" y="829" width="52" height="68.50" fill="#0050ff"/>
<rect x="832" y="863" width="52" height="34.50" fill="#0050ff"/>
<rect x="910" y="894" width="53" height="3.50" fill="#0050ff"/>
<rect x="989" y="836" width="53" height="61.50" fill="#0050ff"/>
<rect x="1068" y="851" width="52" height="46.50" fill="#0050ff"/>
</g>
<clipPath id="c3"><rect x="69.5" y="700.5" width="1025.5" height="199.0"/></clipPath>
<g clip-path="url(#c3)" fill="#808080" shape-rendering="crispEdges">
<rect x="59" y="896.2" width="21" height="1.3" fill="#1a1a1a"/>
<rect x="138" y="896.2" width="21" height="1.3" fill="#1a1a1a"/>
<rect x="217" y="896.2" width="21" height="1.3" fill="#1a1a1a"/>
<rect x="296" y="896.2" width="21" height="1.3" fill="#1a1a1a"/>
<rect x="375" y="896.2" width="21" height="1.3" fill="#1a1a1a"/>
<rect x="454" y="896.2" width="21" height="1.3" fill="#1a1a1a"/>
<rect x="532" y="896.2" width="21" height="1.3" fill="#1a1a1a"/>
<rect x="620" y="840" width="3" height="57"/>
<rect x="611" y="840" width="21" height="3"/>
<rect x="699" y="713" width="3" height="184"/>
<rect x="690" y="713" width="21" height="3"/>
<rect x="778" y="752" width="3" height="145"/>
<rect x="769" y="752" width="21" height="3"/>
<rect x="857" y="808" width="3" height="89"/>
<rect x="848" y="808" width="21" height="3"/>
<rect x="936" y="793" width="3" height="104"/>
<rect x="927" y="793" width="21" height="3"/>
<rect x="1015" y="743" width="3" height="154"/>
<rect x="1006" y="743" width="21" height="3"/>
<rect x="1093" y="764" width="3" height="133"/>
<rect x="1084" y="764" width="21" height="3"/>
</g>
<rect x="69.5" y="700.5" width="1025.0" height="197.0" fill="none" stroke="#1a1a1a" stroke-width="1"/>
<text transform="translate(40.15,854.50) scale(1.0156,1)" font-size="21.00" fill="#000">10</text>
<text transform="translate(39.97,804.00) scale(1.0230,1)" font-size="21.00" fill="#000">20</text>
<text transform="translate(40.31,753.50) scale(1.0083,1)" font-size="21.00" fill="#000">30</text>
<text transform="translate(53.35,893.00) scale(0.9738,1)" font-size="21.00" fill="#000">0</text>
</svg>
<div class="h" id="l">(kraj lahko izberete v meniju)</div>
<div class="h" id="t">Fažana 14 dni</div>
<div class="h" id="r">Zadnja posodobitev: 13.10.2025 - 14:24</div>
</body></html>
